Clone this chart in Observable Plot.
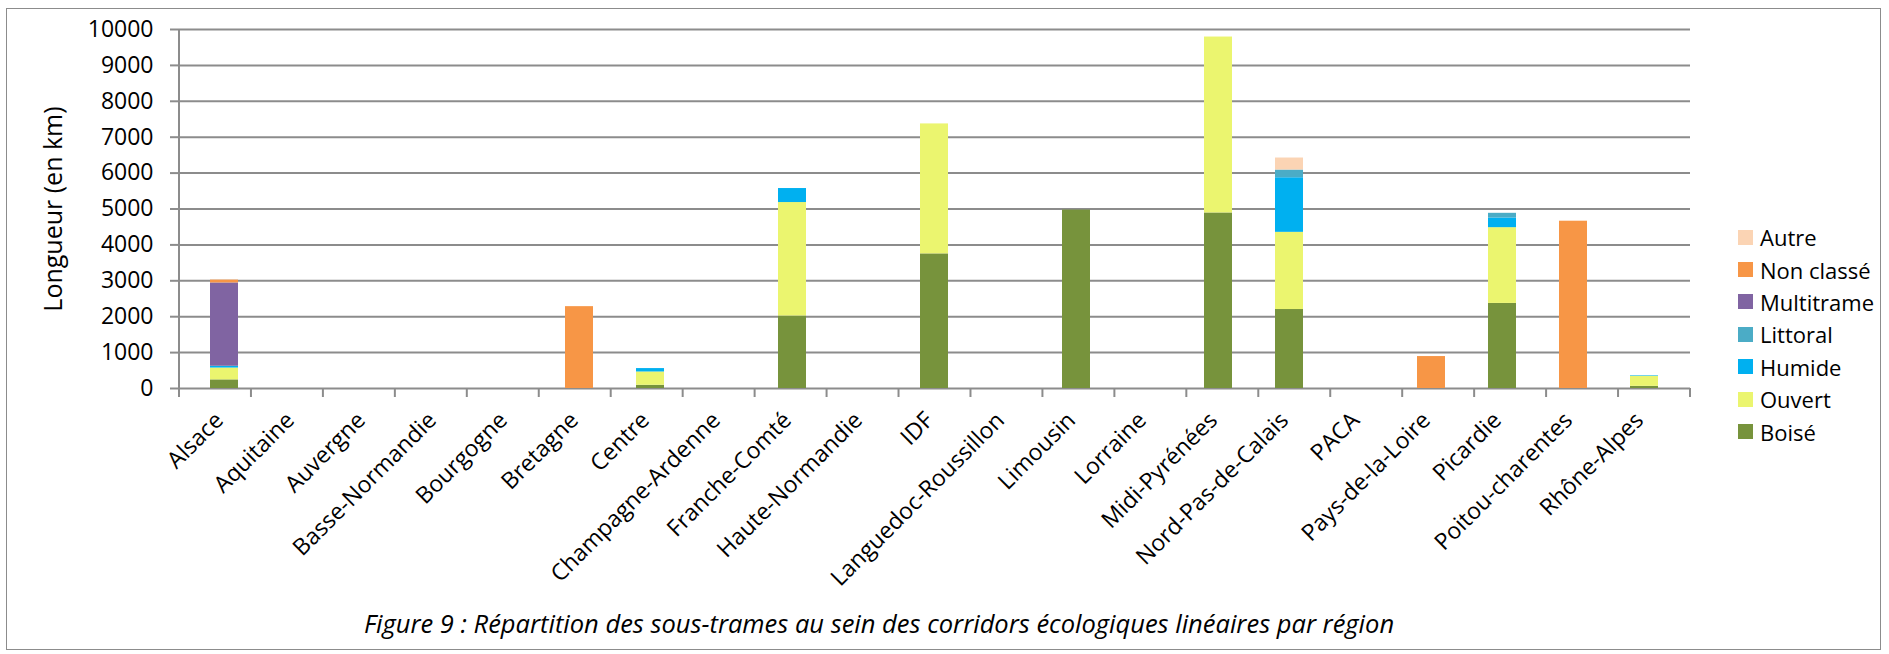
<!DOCTYPE html>
<html>
<head>
<meta charset="utf-8">
<script src="https://cdn.jsdelivr.net/npm/d3@7"></script>
<script src="https://cdn.jsdelivr.net/npm/@observablehq/plot@0.6"></script>
<style>
  body { margin: 0; background: #fff; font-family: "Open Sans", sans-serif; }
  #wrap { position: relative; width: 1889px; height: 654px; overflow: hidden; }
  #border { position: absolute; left: 6px; top: 8px; width: 1875px; height: 642px; border: 1.5px solid #8c8c8c; box-sizing: border-box; }
  #chart { position: absolute; left: 0; top: 0; }
  #legend { position: absolute; left: 1738px; top: 221px; font-size: 22px; color: #000; }
  .item { display: flex; align-items: center; height: 32.4px; }
  .sw { width: 15px; height: 15px; margin-right: 7px; }
  #caption { position: absolute; left: 0; width: 1758px; top: 606px; text-align: center; font-style: italic; font-size: 25.5px; color: #000; }
</style>
</head>
<body>
<div id="wrap">
  <div id="border"></div>
  <div id="chart"></div>
  <div id="legend"></div>
  <div id="caption">Figure 9 : Répartition des sous-trames au sein des corridors écologiques linéaires par région</div>
</div>
<script>
const regions = ["Alsace","Aquitaine","Auvergne","Basse-Normandie","Bourgogne","Bretagne","Centre","Champagne-Ardenne","Franche-Comté","Haute-Normandie","IDF","Languedoc-Roussillon","Limousin","Lorraine","Midi-Pyrénées","Nord-Pas-de-Calais","PACA","Pays-de-la-Loire","Picardie","Poitou-charentes","Rhône-Alpes"];

const boise      = [240,0,0,0,0,0,90,0,2020,0,3750,0,4970,0,4890,2200,0,0,2370,0,60];
const ouvert     = [330,0,0,0,0,0,370,0,3160,0,3620,0,0,0,4900,2150,0,0,2110,0,280];
const humide     = [50,0,0,0,0,0,95,0,390,0,0,0,0,0,0,1520,0,0,270,0,15];
const littoral   = [0,0,0,0,0,0,0,0,0,0,0,0,0,0,0,215,0,0,130,0,0];
const multitrame = [2320,0,0,0,0,0,0,0,0,0,0,0,0,0,0,0,0,0,0,0,0];
const nonClasse  = [80,0,0,0,0,2280,0,0,0,0,0,0,0,0,0,0,0,890,0,4660,0];
const autre      = [0,0,0,0,0,0,0,0,0,0,0,0,0,0,0,335,0,0,0,0,0];

const seriesNames = ["Boisé","Ouvert","Humide","Littoral","Multitrame","Non classé","Autre"];
const seriesValues = [boise, ouvert, humide, littoral, multitrame, nonClasse, autre];
const seriesColors = ["#77933C","#EBF56F","#00B0F0","#4BACC6","#8064A2","#F79646","#FBD4B4"];
const yTicks = [0,1000,2000,3000,4000,5000,6000,7000,8000,9000,10000];

const data = [];
seriesNames.forEach((s, si) => {
  regions.forEach((r, ri) => {
    data.push({region: r, serie: s, value: seriesValues[si][ri]});
  });
});

const W = 1889, H = 600, ML = 179, MR = 199, MT = 29, MB = 212;
const gridColor = "#8c8c8c";

function axisLines(index, scales, values, dims) {
  const g = d3.create("svg:g");
  const y0 = scales.y(0), yTop = scales.y(10000);
  const left = dims.marginLeft, right = dims.width - dims.marginRight;
  const step = (right - left) / regions.length;
  g.append("line").attr("x1", left).attr("x2", left).attr("y1", yTop).attr("y2", y0 + 9)
    .attr("stroke", gridColor).attr("stroke-width", 2);
  for (let i = 0; i <= regions.length; i++) {
    const x = left + i * step;
    g.append("line").attr("x1", x).attr("x2", x).attr("y1", y0).attr("y2", y0 + 9)
      .attr("stroke", gridColor).attr("stroke-width", 2);
  }
  return g.node();
}

const chart = Plot.plot({
  width: W, height: H,
  marginLeft: ML, marginRight: MR, marginTop: MT, marginBottom: MB,
  style: {fontFamily: "Open Sans, sans-serif", fontSize: "23px", color: "#000", background: "transparent"},
  x: {domain: regions, paddingInner: 0.6, paddingOuter: 0.3, label: null},
  y: {domain: [0, 10000], label: null},
  color: {domain: seriesNames, range: seriesColors},
  marks: [
    Plot.ruleY(yTicks, {stroke: gridColor, strokeWidth: 2}),
    Plot.barY(data, {x: "region", y: "value", fill: "serie", order: seriesNames}),
    axisLines,
    Plot.axisY({ticks: yTicks, tickSize: 9, tickPadding: 17, stroke: gridColor, strokeWidth: 2, fill: "#000", fontSize: 23, tickFormat: d => String(d), label: null}),
    Plot.axisX({tickSize: 0, tickRotate: -45, tickPadding: 28, dx: -5, fontSize: 23, fill: "#000", label: null}),
    Plot.text(["Longueur (en km)"], {frameAnchor: "left", textAnchor: "middle", rotate: -90, dx: -126, fontSize: 25, fill: "#000"})
  ]
});
document.getElementById("chart").appendChild(chart);

const legend = document.getElementById("legend");
const legendOrder = ["Autre","Non classé","Multitrame","Littoral","Humide","Ouvert","Boisé"];
legendOrder.forEach(name => {
  const c = seriesColors[seriesNames.indexOf(name)];
  const div = document.createElement("div");
  div.className = "item";
  div.innerHTML = `<span class="sw" style="background:${c}"></span><span>${name}</span>`;
  legend.appendChild(div);
});
</script>
</body>
</html>
